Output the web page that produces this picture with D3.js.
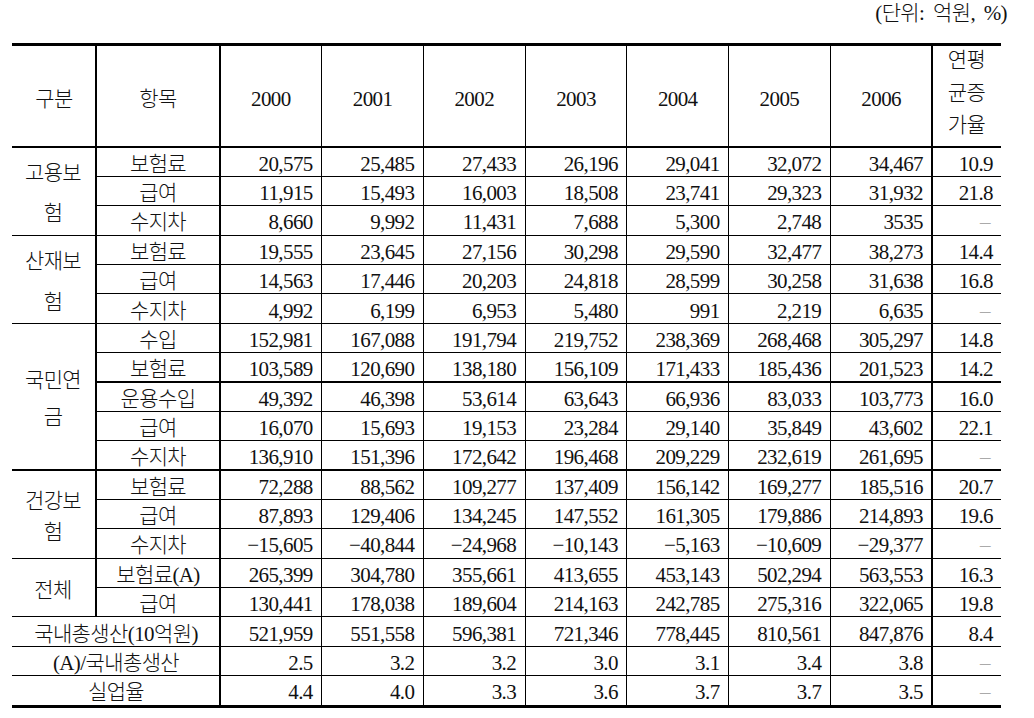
<!DOCTYPE html>
<html><head><meta charset="utf-8">
<script src="https://cdn.jsdelivr.net/npm/d3@7"></script>
<style>
body{margin:0;background:#fff;}
svg text{font-family:"Liberation Serif","Noto Sans CJK KR",serif;font-size:21px;font-weight:300;letter-spacing:-0.6px;fill:#111;}
svg text.unit{word-spacing:4px;}
</style></head><body><svg id="c" width="1034" height="718"></svg>
<script>
// ---------- data ----------
const unitLabel = "(단위: 억원, %)";
const headerLabels = ["구분", "항목"];
const years = ["2000", "2001", "2002", "2003", "2004", "2005", "2006"];
const growthHeader = ["연평", "균증", "가율"];

const groups = ["고용보험", "산재보험", "국민연금", "건강보험", "전체"];
const groupItems = [
  ["보험료", "급여", "수지차"],
  ["보험료", "급여", "수지차"],
  ["수입", "보험료", "운용수입", "급여", "수지차"],
  ["보험료", "급여", "수지차"],
  ["보험료(A)", "급여"]
];

const employmentInsurance = [
  ["20,575", "25,485", "27,433", "26,196", "29,041", "32,072", "34,467"],
  ["11,915", "15,493", "16,003", "18,508", "23,741", "29,323", "31,932"],
  ["8,660", "9,992", "11,431", "7,688", "5,300", "2,748", "3535"]
];
const employmentGrowth = ["10.9", "21.8", "–"];

const industrialInsurance = [
  ["19,555", "23,645", "27,156", "30,298", "29,590", "32,477", "38,273"],
  ["14,563", "17,446", "20,203", "24,818", "28,599", "30,258", "31,638"],
  ["4,992", "6,199", "6,953", "5,480", "991", "2,219", "6,635"]
];
const industrialGrowth = ["14.4", "16.8", "–"];

const nationalPension = [
  ["152,981", "167,088", "191,794", "219,752", "238,369", "268,468", "305,297"],
  ["103,589", "120,690", "138,180", "156,109", "171,433", "185,436", "201,523"],
  ["49,392", "46,398", "53,614", "63,643", "66,936", "83,033", "103,773"],
  ["16,070", "15,693", "19,153", "23,284", "29,140", "35,849", "43,602"],
  ["136,910", "151,396", "172,642", "196,468", "209,229", "232,619", "261,695"]
];
const pensionGrowth = ["14.8", "14.2", "16.0", "22.1", "–"];

const healthInsurance = [
  ["72,288", "88,562", "109,277", "137,409", "156,142", "169,277", "185,516"],
  ["87,893", "129,406", "134,245", "147,552", "161,305", "179,886", "214,893"],
  ["−15,605", "−40,844", "−24,968", "−10,143", "−5,163", "−10,609", "−29,377"]
];
const healthGrowth = ["20.7", "19.6", "–"];

const totalInsurance = [
  ["265,399", "304,780", "355,661", "413,655", "453,143", "502,294", "563,553"],
  ["130,441", "178,038", "189,604", "214,163", "242,785", "275,316", "322,065"]
];
const totalGrowth = ["16.3", "19.8"];

const summaryLabels = ["국내총생산(10억원)", "(A)/국내총생산", "실업율"];
const summaryValues = [
  ["521,959", "551,558", "596,381", "721,346", "778,445", "810,561", "847,876"],
  ["2.5", "3.2", "3.2", "3.0", "3.1", "3.4", "3.8"],
  ["4.4", "4.0", "3.3", "3.6", "3.7", "3.7", "3.5"]
];
const summaryGrowth = ["8.4", "–", "–"];

// ---------- layout (styles / positions) ----------
const groupValues = [employmentInsurance, industrialInsurance, nationalPension, healthInsurance, totalInsurance];
const groupGrowth = [employmentGrowth, industrialGrowth, pensionGrowth, healthGrowth, totalGrowth];
const groupLineGap = [40, 41, 37, 31, 0];

const rows = [];
groups.forEach((g, gi) => {
  groupItems[gi].forEach((it, ii) => {
    rows.push({group: gi, first: ii === 0, label: it, values: groupValues[gi][ii], growth: groupGrowth[gi][ii], summary: false});
  });
});
summaryLabels.forEach((l, i) => rows.push({group: -1, first: true, label: l, values: summaryValues[i], growth: summaryGrowth[i], summary: true}));

const L = 12, R = 1001, C1 = 96, C2 = 220, CG = 932;
const topY = 44.5, headBottom = 147, bottomY = 706.5;

const svg = d3.select("#c");
const x = d3.scaleBand().domain(years).range([C2, CG]);
const y = d3.scaleBand().domain(d3.range(rows.length)).range([headBottom, bottomY - 1.5]);
const rh = y.bandwidth();

// unit
svg.append("text").attr("class", "unit").attr("x", 1007).attr("y", 20).attr("text-anchor", "end").text(unitLabel);

// thick rules
svg.append("line").attr("x1", L).attr("x2", R).attr("y1", topY).attr("y2", topY).attr("stroke", "#000").attr("stroke-width", 3);
svg.append("line").attr("x1", L).attr("x2", R).attr("y1", bottomY).attr("y2", bottomY).attr("stroke", "#000").attr("stroke-width", 3);

const thin = (x1, y1, x2, y2) => svg.append("line").attr("x1", x1).attr("y1", y1).attr("x2", x2).attr("y2", y2)
  .attr("stroke", "#000").attr("stroke-width", 1.2).attr("shape-rendering", "crispEdges");

// header bottom line
thin(L, headBottom, R, headBottom);
// row lines
rows.forEach((r, i) => {
  if (i === 0) return;
  const yy = y(i);
  thin(r.first ? L : C1, yy, R, yy);
});
// vertical lines
const firstSummary = rows.findIndex(r => r.summary);
thin(C1, topY + 1.5, C1, y(firstSummary));
[C2, ...years.map(yr => x(yr) + x.bandwidth())].forEach(xx => thin(xx, topY + 1.5, xx, bottomY - 1.5));

// header text
const hMid = (topY + headBottom) / 2 + 10;
svg.append("text").attr("x", (L + C1) / 2).attr("y", hMid).attr("text-anchor", "middle").text(headerLabels[0]);
svg.append("text").attr("x", (C1 + C2) / 2).attr("y", hMid).attr("text-anchor", "middle").text(headerLabels[1]);
svg.selectAll("text.year").data(years).join("text").attr("class", "year")
  .attr("x", d => x(d) + x.bandwidth() / 2).attr("y", hMid).attr("text-anchor", "middle").text(d => d);
svg.selectAll("text.gh").data(growthHeader).join("text").attr("class", "gh")
  .attr("x", (CG + R) / 2).attr("y", (d, i) => 67 + i * 32.5).attr("text-anchor", "middle").text(d => d);

// group labels
groups.forEach((g, gi) => {
  const idx = rows.map((r, i) => r.group === gi ? i : -1).filter(i => i >= 0);
  const y0 = y(idx[0]), y1 = y(idx[idx.length - 1]) + rh;
  const cy = (y0 + y1) / 2 + 1;
  const lines = g.length > 3 ? [g.slice(0, 3), g.slice(3)] : [g];
  const gap = groupLineGap[gi];
  lines.forEach((ln, li) => {
    const cyl = cy + (li - (lines.length - 1) / 2) * gap;
    svg.append("text").attr("x", (L + C1) / 2 - 1).attr("y", cyl + 8).attr("text-anchor", "middle").text(ln);
  });
});

// row labels & values
const rowG = svg.selectAll("g.row").data(rows).join("g").attr("class", "row")
  .attr("transform", (d, i) => `translate(0,${y(i) + rh / 2 + 9})`);
rowG.append("text").attr("x", d => d.summary ? (L + C2) / 2 : (C1 + C2) / 2).attr("text-anchor", "middle").text(d => d.label);
rowG.selectAll("text.v").data(d => d.values.map((v, i) => ({v, yr: years[i]}))).join("text").attr("class", "v")
  .attr("x", d => x(d.yr) + x.bandwidth() - 9).attr("text-anchor", "end").text(d => d.v);
rowG.append("text").attr("x", d => d.growth === "–" ? R - 11 : R - 8).attr("text-anchor", "end")
  .style("fill", d => d.growth === "–" ? "#aaa" : "#111").text(d => d.growth);
</script></body></html>
